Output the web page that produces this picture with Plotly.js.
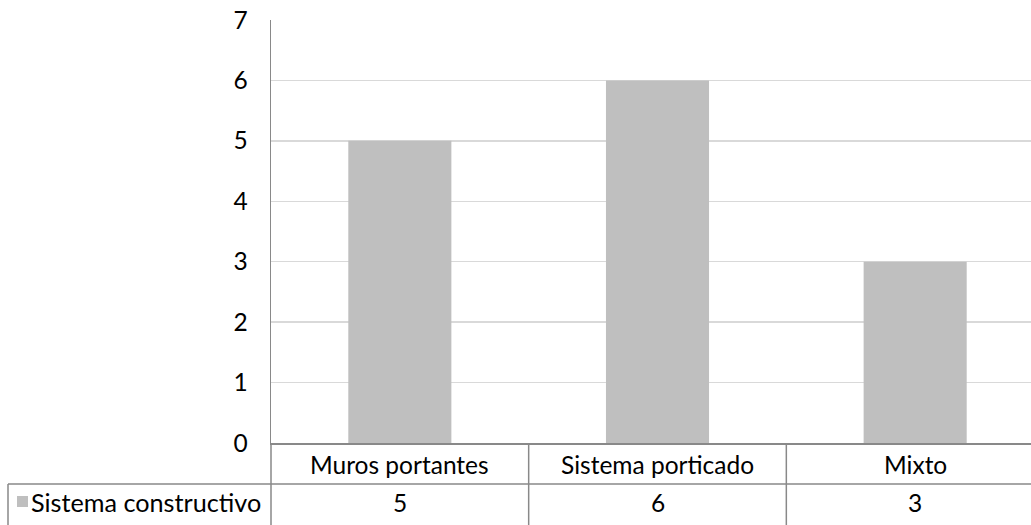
<!DOCTYPE html>
<html><head><meta charset="utf-8">
<script src="https://cdn.plot.ly/plotly-3.0.1.min.js"></script>
<style>html,body{margin:0;padding:0;overflow:hidden;background:#fff}</style>
</head><body>
<div id="chart"></div>
<script>
const categories = ["Muros portantes", "Sistema porticado", "Mixto"];
const seriesName = "Sistema constructivo";
const values = [5, 6, 3];
const yTicks = [0, 1, 2, 3, 4, 5, 6, 7];

const W = 1050, H = 525;
const mL = 271, mR = 6, mT = 20, mB = 82;
const plotH = H - mT - mB;
const plotW = W - mL - mR;
const py = p => -(p - (H - mB)) / plotH;      // pixel y -> paper y
const px = p => (p - mL) / plotW;             // pixel x -> paper x
const lineC = "#898989", gridC = "#d9d9d9", barC = "#bfbfbf";
const font = {family: "Lato, 'Open Sans', sans-serif", size: 24.5, color: "#000"};
const legFont = {family: "Lato, 'Open Sans', sans-serif", size: 25.2, color: "#000"};

const shapes = [];
shapes.push({type:"line", xref:"paper", yref:"paper", x0:px(8), x1:1, y0:py(484), y1:py(484), line:{color:lineC, width:1.5}});
shapes.push({type:"line", xref:"paper", yref:"paper", x0:px(8), x1:px(8), y0:py(484), y1:py(530), line:{color:lineC, width:1.5}});
shapes.push({type:"line", xref:"paper", yref:"paper", x0:0, x1:0, y0:0, y1:py(530), line:{color:lineC, width:1.5}});
for (let i = 0; i < categories.length - 1; i++) {
  shapes.push({type:"line", xref:"x", yref:"paper", x0:i+0.5, x1:i+0.5, y0:0, y1:py(530), line:{color:lineC, width:1.5}});
}
shapes.push({type:"rect", xref:"paper", yref:"paper", x0:px(17), x1:px(28), y0:py(496), y1:py(507), fillcolor:barC, line:{width:0}});

const annotations = [];
categories.forEach((c, i) => {
  annotations.push({xref:"x", yref:"paper", x:i, y:py(464), text:c, showarrow:false, font:font, xanchor:"center", yanchor:"middle"});
  annotations.push({xref:"x", yref:"paper", x:i, y:py(502), text:String(values[i]), showarrow:false, font:font, xanchor:"center", yanchor:"middle"});
});
annotations.push({xref:"paper", yref:"paper", x:px(29), y:py(502), text:seriesName, showarrow:false, font:legFont, xanchor:"left", yanchor:"middle"});

Plotly.newPlot("chart", [{
  type:"bar", x:categories, y:values, name:seriesName,
  marker:{color:barC}, width:0.4, hoverinfo:"none"
}], {
  width:W, height:H,
  margin:{l:mL, r:mR, t:mT, b:mB, pad:0},
  paper_bgcolor:"#fff", plot_bgcolor:"#fff",
  showlegend:false,
  font:font,
  xaxis:{type:"category", showticklabels:false, ticks:"", showgrid:false, zeroline:false,
         showline:true, linecolor:lineC, linewidth:1.5, range:[-0.5, 2.5]},
  yaxis:{range:[0,7], tickvals:yTicks, showgrid:true, gridcolor:gridC, gridwidth:1.5,
         zeroline:false, showline:true, linecolor:lineC, linewidth:1.5, ticks:"",
         ticklabelstandoff:17, tickfont:font},
  shapes:shapes, annotations:annotations
}, {staticPlot:true});
</script>
</body></html>
